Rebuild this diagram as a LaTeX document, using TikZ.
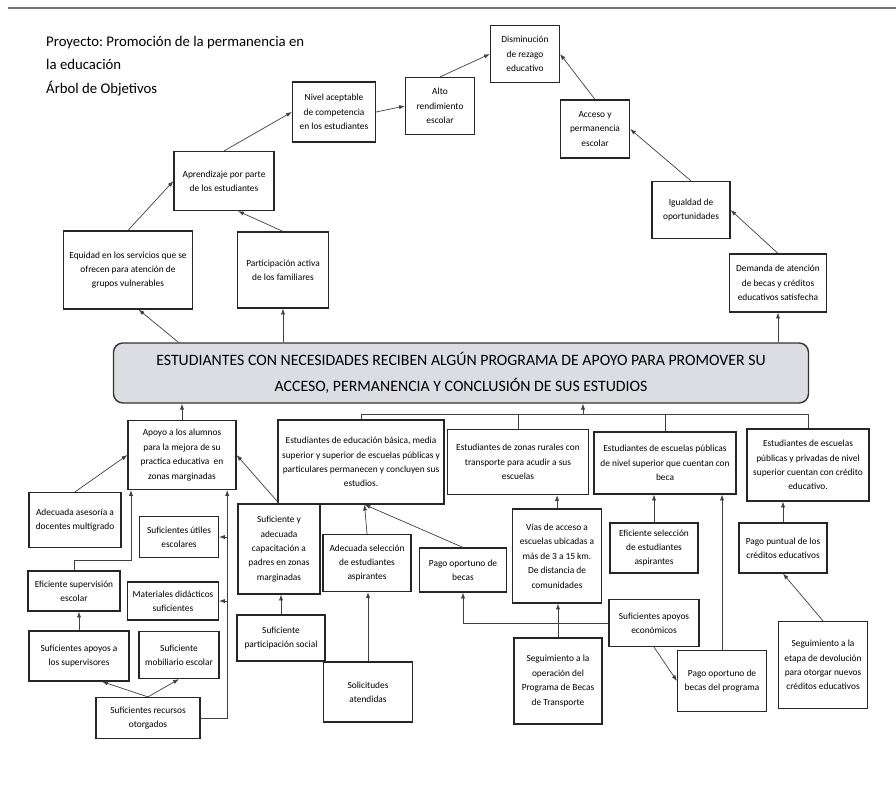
\documentclass[tikz,border=0pt]{standalone}
\usepackage{fontspec}
\setmainfont{Carlito}
\usetikzlibrary{arrows.meta}
\definecolor{fondo}{HTML}{DCDCE3}
\frenchspacing

\begin{document}
\begin{tikzpicture}[x=0.3mm,y=-0.3mm,
    >={Latex[length=5pt,width=3.6pt]},
    obj/.style 2 args={draw=black!85, line width=1pt, align=center, inner sep=1pt,
      font=\fontsize{8}{12.3}\selectfont, minimum width=#1*0.3mm, minimum height=#2*0.3mm},
    meta/.style={draw=black!80, line width=1.2pt, rounded corners=8pt, fill=fondo,
      align=center, font=\fontsize{13.5}{22}\selectfont,
      minimum width=695*0.3mm, minimum height=60*0.3mm}]
  \useasboundingbox (0,0) rectangle (896,797);
  \draw[black!55, line width=1pt] (8,8) -- (896,8);

  \node[anchor=north west, align=left, inner sep=0pt, font=\fontsize{12.6}{20}\selectfont]
    (titulo) at (46,36) {Proyecto: Promoción de la permanencia en\\la educación\\Árbol de Objetivos};

  % fines
  \node[obj={83}{60}] (nivel) at (334,112) {Nivel aceptable\\de competencia\\en los estudiantes};
  \node[obj={69}{57}] (alto) at (440,106) {Alto\\rendimiento\\escolar};
  \node[obj={69}{57}] (dismin) at (525,54) {Disminución\\de rezago\\educativo};
  \node[obj={69}{58}] (acceso) at (595,129) {Acceso y\\permanencia\\escolar};
  \node[obj={78}{57}] (igualdad) at (691,210) {Igualdad de\\oportunidades};
  \node[obj={97}{58}] (demanda) at (778,283) {Demanda de atención\\de becas y créditos\\educativos satisfecha};
  \node[obj={100}{59}] (aprend) at (224,181) {Aprendizaje por parte\\de los estudiantes};
  \node[obj={129}{78}] (equidad) at (128,270) {Equidad en los servicios que se\\ofrecen para atención de\\grupos vulnerables};
  \node[obj={91}{76}] (particip) at (283,270) {Participación activa\\de los familiares};

  % objetivo central
  \node[meta] (central) at (461,373) {ESTUDIANTES CON NECESIDADES RECIBEN ALGÚN PROGRAMA DE APOYO PARA PROMOVER SU\\ACCESO, PERMANENCIA Y CONCLUSIÓN DE SUS ESTUDIOS};

  % medios
  \node[obj={108}{69}] (apoyo) at (182,455) {Apoyo a los alumnos\\para la mejora de su\\practica educativa~ en\\zonas marginadas};
  \node[obj={92}{55}] (asesoria) at (75,520) {Adecuada asesoría a\\docentes multigrado};
  \node[obj={79}{41}] (utiles) at (179,537) {Suficientes útiles\\escolares};
  \node[obj={92}{40}] (efsup) at (74,591) {Eficiente supervisión\\escolar};
  \node[obj={91}{38}] (materiales) at (173,601) {Materiales didácticos\\suficientes};
  \node[obj={100}{50}] (apsup) at (79,656) {Suficientes apoyos a\\los supervisores};
  \node[obj={80}{47}] (mobil) at (179,655) {Suficiente\\mobiliario escolar};
  \node[obj={104}{41}] (recursos) at (148,718) {Suficientes recursos\\otorgados};
  \node[obj={82}{90}] (capac) at (279,549) {Suficiente y\\adecuada\\capacitación a\\padres en zonas\\marginadas};
  \node[obj={88}{46}] (partsoc) at (281,638) {Suficiente\\participación social};
  \node[obj={166}{84}] (basica) at (361,462) {Estudiantes de educación básica, media\\superior y superior de escuelas públicas y\\particulares permanecen y concluyen sus\\estudios.};
  \node[obj={88}{57}] (adsel) at (367,563) {Adecuada selección\\de estudiantes\\aspirantes};
  \node[obj={89}{60}] (solic) at (368,692) {Solicitudes\\atendidas};
  \node[obj={87}{44}] (pagobec) at (463,570) {Pago oportuno de\\becas};
  \node[obj={141}{65}] (rurales) at (518,462) {Estudiantes de zonas rurales con\\transporte para acudir a sus\\escuelas};
  \node[obj={142}{62}] (publicas) at (665,463) {Estudiantes de escuelas públicas\\de nivel superior que cuentan con\\beca};
  \node[obj={122}{72}] (credito) at (808,465) {Estudiantes de escuelas\\públicas y privadas de nivel\\superior cuentan con crédito\\educativo.};
  \node[obj={89}{94}] (vias) at (557,556) {Vías de acceso a\\escuelas ubicadas a\\más de 3 a 15 km.\\De distancia de\\comunidades};
  \node[obj={88}{50}] (efsel) at (654,548) {Eficiente selección\\de estudiantes\\aspirantes};
  \node[obj={88}{50}] (pagopunt) at (783,548) {Pago puntual de los\\créditos educativos};
  \node[obj={90}{47}] (apecon) at (654,623) {Suficientes apoyos\\económicos};
  \node[obj={88}{86}] (segop) at (558,681) {Seguimiento a la\\operación del\\Programa de Becas\\de Transporte};
  \node[obj={89}{61}] (pagoprog) at (722,681) {Pago oportuno de\\becas del programa};
  \node[obj={89}{87}] (seget) at (823,665) {Seguimiento a la\\etapa de devolución\\para otorgar nuevos\\créditos educativos};

  \coordinate (bar) at (583,414);
  \coordinate (riser) at ([xshift=-8pt]apoyo.south east);
  \coordinate (tipb) at ([xshift=3pt]basica.south);

  \begin{scope}[->, line width=0.6pt, draw=black!75]
    % hacia los fines
    \draw (equidad.north) to (aprend.west);
    \draw (particip.north) to (aprend.-65);
    \draw (aprend.north) to (nivel.west);
    \draw (nivel.east) to (alto.west);
    \draw (alto.north) to (dismin.west);
    \draw (acceso.north) to (dismin.east);
    \draw (igualdad.north) to (acceso.east);
    \draw (demanda.north) to (igualdad.east);
    \draw ([xshift=56pt]central.north west) to (equidad.-75);
    \draw (particip.south |- central.north) to (particip.south);
    \draw (demanda.south |- central.north) to (demanda.south);
    % hacia el objetivo central
    \draw (apoyo.north) to (apoyo.north |- central.south);
    \draw (bar) to (bar |- central.south);
    \draw[-] (basica.north) |- (credito.north |- bar) -- (credito.north);
    \draw[-] (rurales.north) -- (rurales.north |- bar);
    \draw[-] (publicas.north) -- (publicas.north |- bar);
    % rama izquierda
    \draw (asesoria.north) to (apoyo.west);
    \draw (efsup.north) -- ++(0,-10) -| ([xshift=3pt]apoyo.south west);
    \draw (recursos.east) -| (riser);
    \draw (riser |- utiles.east) to (utiles.east);
    \draw (riser |- materiales.east) to (materiales.east);
    \draw (recursos.north) to (apsup.-48);
    \draw (recursos.north) to (mobil.south);
    \draw (apsup.north) to (apsup.north |- efsup.south);
    \draw (capac.north) to (apoyo.east);
    \draw (partsoc.north) to (partsoc.north |- capac.south);
    % rama central
    \draw (adsel.north) to (tipb);
    \draw (pagobec.north) to (tipb);
    \draw (solic.north) to (solic.north |- adsel.south);
    \draw (vias.north) to (vias.north |- rurales.south);
    \draw (segop.north) to (segop.north |- vias.south);
    \draw (apecon.west) -| (pagobec.south);
    \draw (apecon.south) to (pagoprog.west);
    % rama derecha
    \draw (efsel.north) to (efsel.north |- publicas.south);
    \draw (pagoprog.north) to (pagoprog.north |- publicas.south);
    \draw (pagopunt.north) to (pagopunt.north |- credito.south);
    \draw (seget.north) to (pagopunt.south);
  \end{scope}
\end{tikzpicture}
\end{document}
